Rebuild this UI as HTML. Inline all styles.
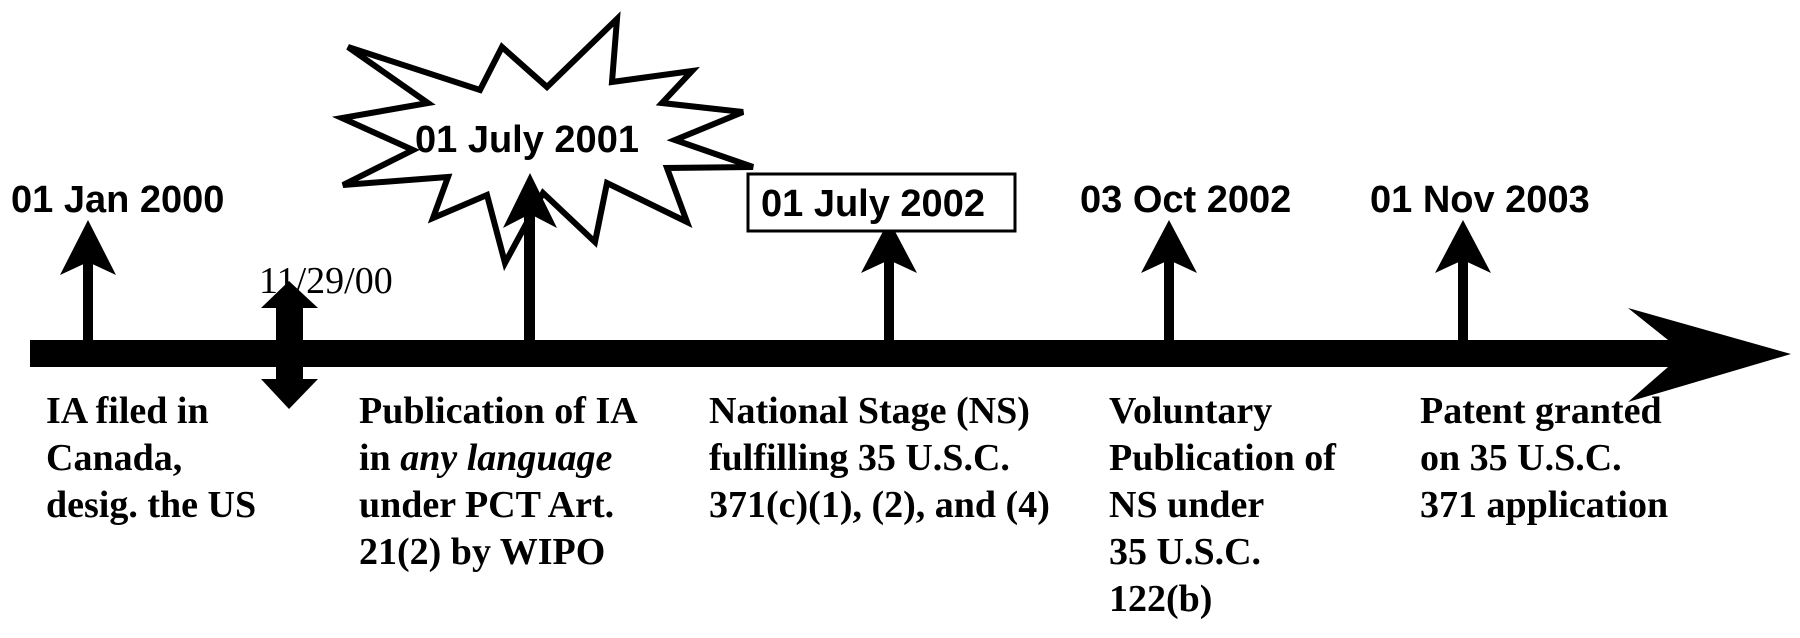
<!DOCTYPE html>
<html><head><meta charset="utf-8"><style>
html,body{margin:0;padding:0;background:#fff;}
svg{display:block;}
.d{font-family:"Liberation Sans",Arial,sans-serif;font-weight:bold;font-size:38px;fill:#000;}
.t{font-family:"Liberation Serif","Times New Roman",serif;font-weight:bold;font-size:38px;fill:#000;}
</style></head><body>
<svg width="1800" height="638" viewBox="0 0 1800 638" xmlns="http://www.w3.org/2000/svg">
<rect width="1800" height="638" fill="#fff"/>
<!-- starburst -->
<polygon points="348,47 480,90 502,47 547,87 617,19 612,82 692,71 662,103 743,112 675,140 753,167 667,168 687,222 607,183 595,242 543,193 505,263 487,195 433,218 448,177 343,185 413,150 342,118 428,103" fill="#fff" stroke="#000" stroke-width="6" stroke-linejoin="miter"/>
<!-- main bar -->
<rect x="30" y="340" width="1640" height="27" fill="#000"/>
<polygon points="1628,308 1791,354 1628,402 1668,367 1668,340" fill="#000"/>
<!-- up arrows -->
<g fill="#000">
 <rect x="83" y="255" width="10" height="90"/>
 <polygon points="88,220 116,275 88,262 60,275"/>
 <rect x="524" y="210" width="11" height="135"/>
 <polygon points="530,173 557,228 530,214 503,228"/>
 <rect x="884" y="255" width="10" height="90"/>
 <polygon points="889,220 917,273 889,260 861,273"/>
 <rect x="1164" y="255" width="10" height="90"/>
 <polygon points="1169,220 1197,273 1169,260 1141,273"/>
 <rect x="1458" y="255" width="10" height="90"/>
 <polygon points="1463,220 1491,273 1463,260 1435,273"/>
 <!-- double arrow -->
 <rect x="276" y="300" width="27" height="84"/>
 <polygon points="289,281 318,308 261,308"/>
 <polygon points="261,379 318,379 289,409"/>
</g>
<!-- date labels -->
<text class="d" x="11" y="212">01 Jan 2000</text>
<text class="d" x="415" y="152">01 July 2001</text>
<rect x="748" y="174" width="267" height="57" fill="#fff" stroke="#000" stroke-width="3"/>
<text class="d" x="761" y="216">01 July 2002</text>
<text class="d" x="1080" y="212">03 Oct 2002</text>
<text class="d" x="1370" y="212">01 Nov 2003</text>
<text x="259" y="293" style="font-family:'Liberation Serif','Times New Roman',serif;font-size:38px;fill:#000;">11/29/00</text>
<!-- bottom labels -->
<text class="t" x="46" y="423">IA filed in</text>
<text class="t" x="46" y="470">Canada,</text>
<text class="t" x="46" y="517">desig. the US</text>

<text class="t" x="359" y="423">Publication of IA</text>
<text class="t" x="359" y="470">in <tspan font-style="italic">any language</tspan></text>
<text class="t" x="359" y="517">under PCT Art.</text>
<text class="t" x="359" y="564">21(2) by WIPO</text>

<text class="t" x="709" y="423">National Stage (NS)</text>
<text class="t" x="709" y="470">fulfilling 35 U.S.C.</text>
<text class="t" x="709" y="517">371(c)(1), (2), and (4)</text>

<text class="t" x="1109" y="423">Voluntary</text>
<text class="t" x="1109" y="470">Publication of</text>
<text class="t" x="1109" y="517">NS under</text>
<text class="t" x="1109" y="564">35 U.S.C.</text>
<text class="t" x="1109" y="611">122(b)</text>

<text class="t" x="1420" y="423">Patent granted</text>
<text class="t" x="1420" y="470">on 35 U.S.C.</text>
<text class="t" x="1420" y="517">371 application</text>
</svg>
</body></html>
